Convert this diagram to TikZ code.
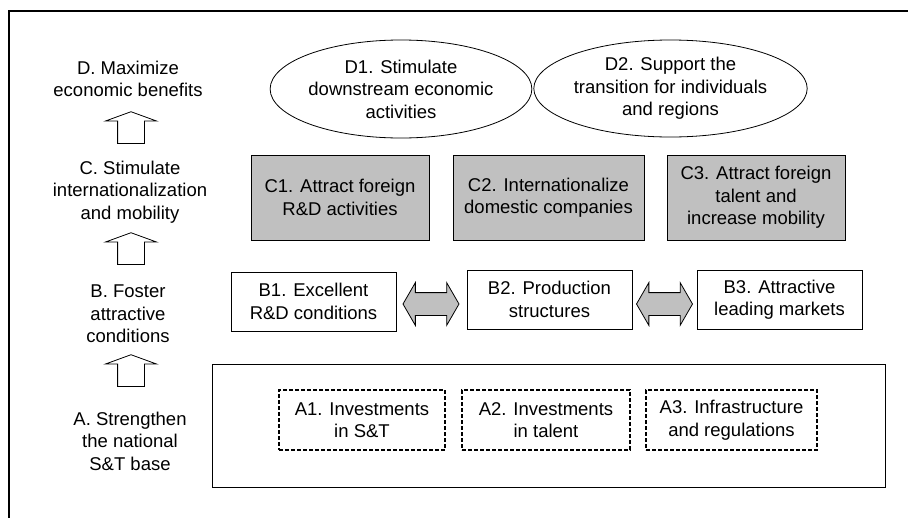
\documentclass[tikz,border=0pt]{standalone}
\usepackage{fontspec}
\setmainfont{Liberation Sans}
\usetikzlibrary{shapes.geometric,shapes.arrows}
\definecolor{boxgray}{HTML}{C0C0C0}
\tikzset{
  lab/.style={align=center,inner sep=0pt},
  goal/.style={ellipse,draw,line width=0.8pt,align=center,inner sep=0pt},
  cbox/.style={draw,line width=0.8pt,fill=boxgray,align=center,inner sep=0pt,minimum height=85pt},
  bbox/.style={draw,line width=0.8pt,align=center,inner sep=0pt,minimum width=165pt,minimum height=59pt},
  abox/.style={draw,line width=1.6pt,dash pattern=on 4pt off 2pt,align=center,inner sep=0pt,minimum height=60pt},
  uparr/.style={single arrow,draw,line width=0.8pt,fill=white,shape border rotate=90,
    minimum height=31pt,single arrow head extend=12pt,
    single arrow tip angle=140,inner sep=13pt},
  biarr/.style={double arrow,draw,line width=0.8pt,fill=boxgray,minimum height=56pt,
    double arrow head extend=10pt,double arrow tip angle=120,inner sep=11pt}
}
\begin{document}
\begin{tikzpicture}[x=1pt,y=-1pt,font=\fontsize{18.5}{22.5}\selectfont]
  \useasboundingbox (0,0) rectangle (908,517);
  \draw[line width=2.5pt] (9,520) -- (9,11) -- (912,11);
  % levels
  \node[lab] (labD) at (128,79) {D. Maximize\\economic benefits};
  \node[lab] (labC) at (130,192) {C. Stimulate\\internationalization\\and mobility};
  \node[lab] (labB) at (128,314) {B. Foster\\attractive\\conditions};
  \node[lab] (labA) at (130,441) {A. Strengthen\\the national\\S\&T base};
  \node[uparr] (upCD) at (131,130) {};
  \node[uparr] (upBC) at (131,251) {};
  \node[uparr] (upAB) at (131,373) {};
  % D
  \node[goal,minimum width=252pt,minimum height=98pt] (d1) at (401,89)
    {D1. Stimulate\\downstream economic\\activities};
  \node[goal,minimum width=251pt,minimum height=97pt] (d2) at (670.5,88.5)
    {D2. Support the\\transition for individuals\\and regions};
  % C
  \node[cbox,minimum width=178pt] (c1) at (340,197.5) {C1. Attract foreign\\R\&D activities};
  \node[cbox,minimum width=191pt] (c2) at (548.5,197.5) {C2. Internationalize\\domestic companies};
  \node[cbox,minimum width=178pt] (c3) at (756,197.5) {C3. Attract foreign\\talent and\\increase mobility};
  % B
  \node[bbox] (b1) at (313.5,301.5) {B1. Excellent\\R\&D conditions};
  \node[bbox] (b2) at (549.5,299.5) {B2. Production\\structures};
  \node[bbox] (b3) at (779.5,299.5) {B3. Attractive\\leading markets};
  \node[biarr] (b12) at (431,304) {};
  \node[biarr] (b23) at (664.5,304) {};
  % A
  \node[draw,line width=1pt,minimum width=673pt,minimum height=123pt] (abase) at (548.5,425.5) {};
  \node[abox,minimum width=166pt] (a1) at (362,420) {A1. Investments\\in S\&T};
  \node[abox,minimum width=168pt] (a2) at (546,420) {A2. Investments\\in talent};
  \node[abox,minimum width=171pt] (a3) at (731.5,420) {A3. Infrastructure\\and regulations};
\end{tikzpicture}
\end{document}
